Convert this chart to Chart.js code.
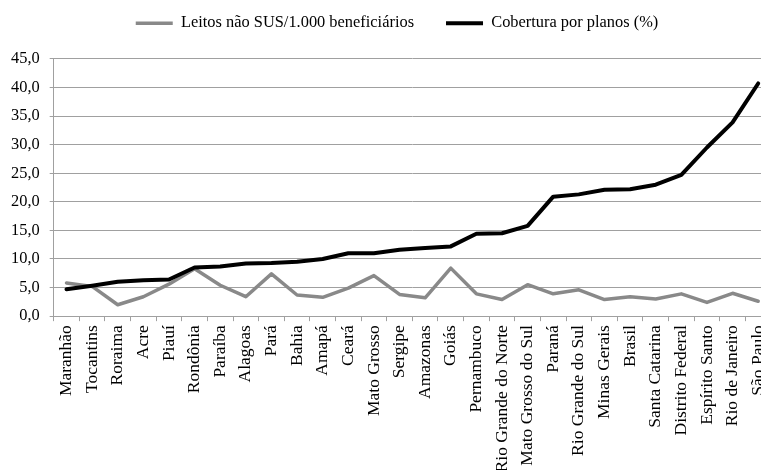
<!DOCTYPE html>
<html>
<head>
<meta charset="utf-8">
<script src="https://cdn.jsdelivr.net/npm/chart.js@4/dist/chart.umd.min.js"></script>
<style>
	html, body { margin: 0; padding: 0; background: #fff; overflow: hidden; }
	#wrap { position: relative; width: 792px; height: 490px; }
</style>
</head>
<body>
<div id="wrap"><canvas id="lineChart"></canvas></div>
<script>
var estados = [ "Maranhão", "Tocantins", "Roraima", "Acre", "Piauí", "Rondônia",
		"Paraíba", "Alagoas", "Pará", "Bahia", "Amapá", "Ceará", "Mato Grosso",
		"Sergipe", "Amazonas", "Goiás", "Pernambuco", "Rio Grande do Norte",
		"Mato Grosso do Sul", "Paraná", "Rio Grande do Sul", "Minas Gerais",
		"Brasil", "Santa Catarina", "Distrito Federal", "Espírito Santo",
		"Rio de Janeiro", "São Paulo" ];
var leitosNaoSus = [ 5.8, 5.2, 2.0, 3.4, 5.6, 8.3, 5.4, 3.4, 7.4, 3.7, 3.3, 4.9, 7.1,
		3.8, 3.2, 8.4, 3.9, 2.9, 5.5, 3.9, 4.6, 2.9, 3.4, 3.0, 3.9, 2.4, 4.0, 2.6 ];
var coberturaPlanos = [ 4.7, 5.3, 6.0, 6.3, 6.4, 8.5, 8.7, 9.2, 9.3, 9.5, 10.0, 11.0,
		11.0, 11.6, 11.9, 12.2, 14.4, 14.5, 15.8, 20.9, 21.3, 22.1, 22.2, 23.0,
		24.7, 29.5, 33.9, 40.7 ];
var yMin = 0;
var yMax = 45;
var yStep = 5;

var gridColor = '#a0a0a0';
var serif = "'Liberation Serif', 'Times New Roman', serif";

// legend: some room below it, and nudged right like the original
var legendPlace = {
	id : 'legendPlace',
	beforeInit : function(chart) {
		var fit = chart.legend.fit;
		chart.legend.fit = function() {
			fit.bind(chart.legend)();
			this.height += 17.5;
		};
	},
	afterLayout : function(chart) {
		chart.legend.left += 11;
		chart.legend.right += 11;
	}
};

var ctxL = document.getElementById("lineChart").getContext('2d');
var myLineChart = new Chart(ctxL, {
	type : 'line',
	data : {
		labels : estados,
		datasets : [ {
			label : "Leitos não SUS/1.000 beneficiários",
			data : leitosNaoSus,
			borderColor : '#898989',
			pointBorderColor : '#898989',
			borderWidth : 3.5,
			pointBorderWidth : 3.5,
			order : 2
		}, {
			label : "Cobertura por planos (%)",
			data : coberturaPlanos,
			borderColor : '#000000',
			pointBorderColor : '#000000',
			borderWidth : 4,
			pointBorderWidth : 4,
			order : 1
		} ]
	},
	options : {
		responsive : true,
		maintainAspectRatio : false,
		animation : false,
		layout : {
			padding : { top : -17, left : 1, right : 21, bottom : 13.6 }
		},
		elements : {
			point : { radius : 0, hoverRadius : 0 },
			line : { tension : 0, borderJoinStyle : 'round', borderCapStyle : 'round' }
		},
		plugins : {
			tooltip : { enabled : false },
			legend : {
				position : 'top',
				labels : {
					usePointStyle : true,
					pointStyle : 'line',
					pointStyleWidth : 37,
					padding : 32,
					color : '#000',
					font : { family : serif, size : 16.4 },
					sort : function(a, b) {
						return a.datasetIndex - b.datasetIndex;
					}
				}
			}
		},
		scales : {
			x : {
				offset : true,
				grid : {
					offset : true,
					drawOnChartArea : false,
					drawTicks : true,
					tickLength : 5,
					color : gridColor
				},
				border : { display : true, color : gridColor },
				ticks : {
					autoSkip : false,
					maxRotation : 90,
					minRotation : 90,
					padding : 4,
					color : '#000',
					font : { family : serif, size : 17.5 }
				}
			},
			y : {
				min : yMin,
				max : yMax,
				grid : {
					color : gridColor,
					tickLength : 4
				},
				border : { display : true, color : gridColor },
				ticks : {
					stepSize : yStep,
					padding : 10,
					color : '#000',
					font : { family : serif, size : 16.4 },
					callback : function(value) {
						return value.toFixed(1).replace('.', ',');
					}
				}
			}
		}
	},
	plugins : [ legendPlace ]
});
</script>
</body>
</html>
